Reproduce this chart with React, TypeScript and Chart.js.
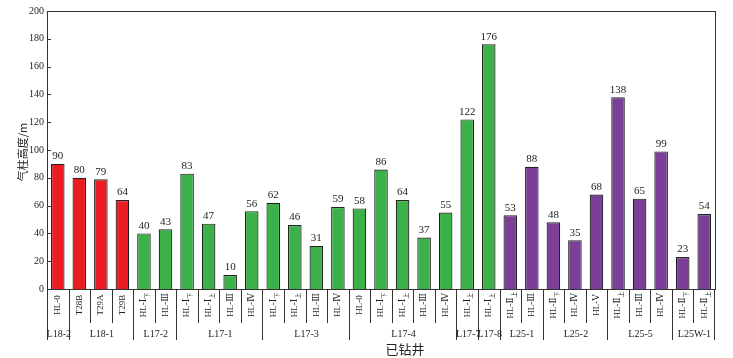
import React, { useEffect, useRef } from "react";
import { Chart, registerables } from "chart.js";
Chart.register(...registerables);

// ---- data ----
const barLabels = ["HL-0", "T28B", "T29A", "T29B", "HL-Ⅰ", "HL-Ⅲ", "HL-Ⅰ", "HL-Ⅰ", "HL-Ⅲ", "HL-Ⅳ", "HL-Ⅰ", "HL-Ⅰ", "HL-Ⅲ", "HL-Ⅳ", "HL-0", "HL-Ⅰ", "HL-Ⅰ", "HL-Ⅲ", "HL-Ⅳ", "HL-Ⅰ", "HL-Ⅰ", "HL-Ⅱ", "HL-Ⅲ", "HL-Ⅱ", "HL-Ⅳ", "HL-Ⅴ", "HL-Ⅱ", "HL-Ⅲ", "HL-Ⅳ", "HL-Ⅱ", "HL-Ⅱ"];
const barSubs = ["", "", "", "", "下", "", "下", "上", "", "", "下", "上", "", "", "", "下", "上", "", "", "上", "上", "上", "", "下", "", "", "上", "", "", "下", "上"];
const values = [90, 80, 79, 64, 40, 43, 83, 47, 10, 56, 62, 46, 31, 59, 58, 86, 64, 37, 55, 122, 176, 53, 88, 48, 35, 68, 138, 65, 99, 23, 54];
const wellGroups = ["L18-2", "L18-1", "L17-2", "L17-1", "L17-3", "L17-4", "L17-7", "L17-8", "L25-1", "L25-2", "L25-5", "L25W-1"];
const groupSizes = [1, 3, 2, 4, 4, 5, 1, 1, 2, 3, 3, 2];
const yTitle = "气柱高度/m";
const xTitle = "已钻井";
const yMin = 0;
const yMax = 200;
const yStep = 20;

// ---- styles ----
const familyColors: Record<string, string> = { L18: "#EC1C24", L17: "#3CB14A", L25: "#7B3F98" };
const TEXT = "#222";
const LINE = "#333";
const SERIF = "'Liberation Serif', 'DejaVu Serif', serif";
const CJK = "'Noto Sans CJK SC', sans-serif";

const barColors: string[] = [];
groupSizes.forEach((n, g) => {
  const fam = wellGroups[g].slice(0, 3);
  for (let k = 0; k < n; k++) barColors.push(familyColors[fam]);
});

const decorPlugin = {
  id: "decor",
  afterDraw(chart: any) {
    const { ctx, chartArea } = chart;
    const xs = chart.scales.x;
    const ys = chart.scales.y;
    const left = chartArea.left, right = chartArea.right, top = chartArea.top, bottom = chartArea.bottom;
    ctx.save();
    // frame
    ctx.strokeStyle = LINE;
    ctx.lineWidth = 1;
    ctx.strokeRect(Math.round(left) + 0.5, Math.round(top) + 0.5, Math.round(right - left), Math.round(bottom - top));
    // inward ticks on y axis
    ctx.beginPath();
    for (let v = yMin; v <= yMax; v += yStep) {
      const py = Math.round(ys.getPixelForValue(v)) + 0.5;
      ctx.moveTo(left, py);
      ctx.lineTo(left + 4, py);
    }
    ctx.stroke();

    // value labels
    const meta = chart.getDatasetMeta(0);
    ctx.fillStyle = TEXT;
    ctx.font = `11px ${SERIF}`;
    ctx.textAlign = "center";
    ctx.textBaseline = "bottom";
    meta.data.forEach((bar: any, i: number) => {
      ctx.fillText(String(values[i]), bar.x, bar.y - 2);
    });

    // category separators and group separators
    const step = (xs.getPixelForValue(1) - xs.getPixelForValue(0));
    let idx = 0;
    ctx.beginPath();
    groupSizes.forEach((n, g) => {
      const gx0 = xs.getPixelForValue(idx) - step / 2;
      const gx1 = xs.getPixelForValue(idx + n - 1) + step / 2;
      ctx.moveTo(Math.round(gx0) + 0.5, bottom);
      ctx.lineTo(Math.round(gx0) + 0.5, bottom + 51);
      if (g === groupSizes.length - 1) {
        ctx.moveTo(Math.round(gx1) - 0.5, bottom);
        ctx.lineTo(Math.round(gx1) - 0.5, bottom + 51);
      }
      for (let k = 1; k < n; k++) {
        const sx = Math.round(xs.getPixelForValue(idx + k) - step / 2) + 0.5;
        ctx.moveTo(sx, bottom);
        ctx.lineTo(sx, bottom + 34);
      }
      idx += n;
    });
    ctx.stroke();

    // group labels
    ctx.font = `10px ${SERIF}`;
    ctx.textBaseline = "middle";
    ctx.textAlign = "center";
    idx = 0;
    groupSizes.forEach((n, g) => {
      const cx = (xs.getPixelForValue(idx) + xs.getPixelForValue(idx + n - 1)) / 2;
      ctx.fillText(wellGroups[g], cx + 1, bottom + 45);
      idx += n;
    });

    // rotated category labels
    barLabels.forEach((lab, i) => {
      const cx = xs.getPixelForValue(i);
      ctx.save();
      ctx.translate(cx, bottom + 16);
      ctx.rotate(-Math.PI / 2);
      ctx.font = `9px ${SERIF}`;
      const w1 = ctx.measureText(lab).width;
      ctx.font = `6px ${CJK}`;
      const w2 = barSubs[i] ? ctx.measureText(barSubs[i]).width : 0;
      const start = -(w1 + w2) / 2;
      ctx.textAlign = "left";
      ctx.textBaseline = "middle";
      ctx.font = `9px ${SERIF}`;
      ctx.fillText(lab, start, 0);
      if (barSubs[i]) {
        ctx.font = `6px ${CJK}`;
        ctx.fillText(barSubs[i], start + w1, 3);
      }
      ctx.restore();
    });

    // axis titles
    ctx.font = `13px ${CJK}`;
    ctx.textAlign = "center";
    ctx.textBaseline = "middle";
    ctx.fillText(xTitle, 405, bottom + 60);
    ctx.save();
    ctx.translate(23, 152);
    ctx.rotate(-Math.PI / 2);
    ctx.font = `11px ${CJK}`;
    ctx.fillText(yTitle, 0, 0);
    ctx.restore();

    ctx.restore();
  },
};

export default function App() {
  const ref = useRef<HTMLCanvasElement | null>(null);
  useEffect(() => {
    if (!ref.current) return;
    const chart = new Chart(ref.current, {
      type: "bar",
      data: {
        labels: barLabels.map((l, i) => l + barSubs[i]),
        datasets: [
          {
            data: values,
            backgroundColor: barColors,
            borderColor: "#222",
            borderWidth: 1.2,
            borderSkipped: "bottom",
            barPercentage: 0.63,
            categoryPercentage: 1,
          },
        ],
      },
      options: {
        animation: false,
        responsive: true,
        maintainAspectRatio: false,
        layout: { padding: { top: 11, right: 18, left: 0, bottom: 0 } },
        plugins: { legend: { display: false }, tooltip: { enabled: false }, title: { display: false } },
        scales: {
          x: {
            grid: { display: false },
            border: { display: false },
            ticks: { display: false },
            afterFit(scale: any) {
              scale.height = 69;
            },
          },
          y: {
            min: yMin,
            max: yMax,
            grid: { display: false, drawTicks: false },
            border: { display: false },
            ticks: { stepSize: yStep, color: TEXT, font: { family: SERIF, size: 10 }, padding: 3 },
            afterFit(scale: any) {
              scale.width = 47;
            },
          },
        },
      },
      plugins: [decorPlugin],
    });
    return () => chart.destroy();
  }, []);
  return (
    <div style={{ position: "fixed", left: 0, top: 0, width: 733, height: 358, background: "#fff" }}>
      <canvas ref={ref} />
    </div>
  );
}
